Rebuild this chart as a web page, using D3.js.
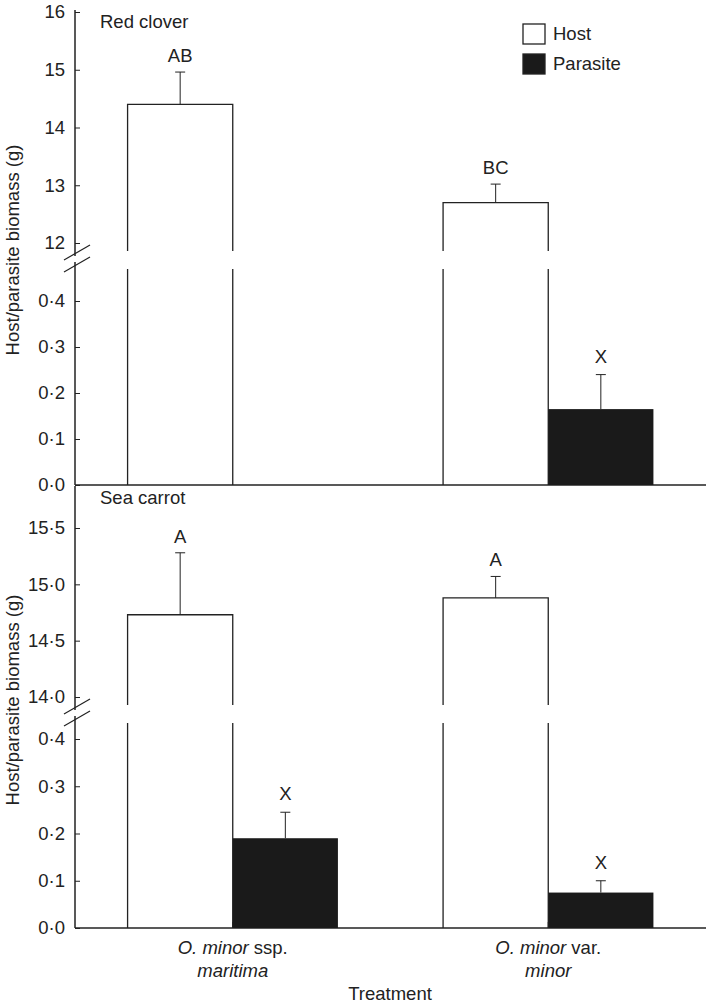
<!DOCTYPE html>
<html><head><meta charset="utf-8">
<script src="https://cdn.jsdelivr.net/npm/d3@7"></script>
<style>body{margin:0;background:#fff}text{font-family:"Liberation Sans",Arial,sans-serif;fill:#222}</style>
</head><body><svg id="c" width="708" height="1004"></svg>
<script>
// data
var treatments = ["maritima", "minor"];
var clover_host = [14.4, 12.7], clover_host_err = [0.56, 0.32];
var clover_par = [null, 0.165], clover_par_err = [null, 0.075];
var clover_host_lbl = ["AB", "BC"], clover_par_lbl = [null, "X"];
var carrot_host = [14.73, 14.88], carrot_host_err = [0.55, 0.19];
var carrot_par = [0.19, 0.075], carrot_par_err = [0.055, 0.025];
var carrot_host_lbl = ["A", "A"], carrot_par_lbl = ["X", "X"];
var upTicks1 = [12, 13, 14, 15, 16], upTicks2 = [14.0, 14.5, 15.0, 15.5];
var lowTicks = [0, 0.1, 0.2, 0.3, 0.4];

var svg = d3.select("#c"), ink = "#222", fs = 18.5;
var x0 = d3.scaleBand().domain(treatments).range([75, 706]).paddingInner(0).paddingOuter(0);
var x1 = d3.scaleBand().domain(["host", "par"]).range([0, x0.bandwidth()]).paddingInner(0).paddingOuter(0.5);
var fmt = function(d){ return d.toFixed(1).replace(".", "\u00b7"); };

function panel(o){
  var up = d3.scaleLinear().domain(o.upDom).range(o.upRange);
  var lo = d3.scaleLinear().domain([0, 0.4]).range(o.loRange);
  var gu = svg.append("g").attr("transform","translate(75,0)")
    .call(d3.axisLeft(up).tickValues(o.upTicks).tickSize(5).tickFormat(o.upFmt));
  var gl = svg.append("g").attr("transform","translate(75,0)")
    .call(d3.axisLeft(lo).tickValues(lowTicks).tickSize(5).tickFormat(fmt));
  [gu, gl].forEach(function(g){
    g.select(".domain").remove();
    g.selectAll("line").attr("stroke", ink).attr("x2", 5);
    g.selectAll("text").attr("font-size", fs).attr("x", -10).style("fill", ink);
  });
  svg.append("line").attr("x1",75).attr("x2",75).attr("y1",o.top).attr("y2",o.loRange[0]).attr("stroke",ink).attr("stroke-width",1.5);
  svg.append("line").attr("x1",75).attr("x2",706).attr("y1",o.loRange[0]).attr("y2",o.loRange[0]).attr("stroke",ink).attr("stroke-width",1.5);
  var by = o.brk;
  [by - 4, by + 8].forEach(function(y){
    svg.append("line").attr("x1",64).attr("x2",90).attr("y1",y+7).attr("y2",y-8).attr("stroke",ink).attr("stroke-width",1.2);
  });
  svg.append("rect").attr("x",73).attr("y",by-1).attr("width",5).attr("height",6).attr("fill","#fff");
  treatments.forEach(function(t, i){
    var bx = x0(t) + x1("host"), w = x1.bandwidth(), base = o.loRange[0];
    var yt = up(o.host[i]);
    svg.append("path").attr("fill","none").attr("stroke",ink).attr("stroke-width",1.3)
      .attr("d","M"+bx+","+(by-6)+"V"+yt+"H"+(bx+w)+"V"+(by-6)+"M"+bx+","+(by+12)+"V"+base+"M"+(bx+w)+","+(by+12)+"V"+base);
    var ye = up(o.host[i] + o.hostErr[i]);
    svg.append("line").attr("x1",bx+w/2).attr("x2",bx+w/2).attr("y1",yt).attr("y2",ye).attr("stroke",ink);
    svg.append("line").attr("x1",bx+w/2-5).attr("x2",bx+w/2+5).attr("y1",ye).attr("y2",ye).attr("stroke",ink);
    svg.append("text").attr("x",bx+w/2).attr("y",ye-10).attr("text-anchor","middle").attr("font-size",fs).text(o.hostLbl[i]);
    if (o.par[i] != null) {
      var px = x0(t) + x1("par"), py = lo(o.par[i]), pe = lo(o.par[i] + o.parErr[i]);
      svg.append("rect").attr("x",px).attr("y",py).attr("width",w).attr("height",base-py).attr("fill","#1a1a1a");
      svg.append("line").attr("x1",px+w/2).attr("x2",px+w/2).attr("y1",py).attr("y2",pe).attr("stroke",ink);
      svg.append("line").attr("x1",px+w/2-5).attr("x2",px+w/2+5).attr("y1",pe).attr("y2",pe).attr("stroke",ink);
      svg.append("text").attr("x",px+w/2).attr("y",pe-12).attr("text-anchor","middle").attr("font-size",fs).text(o.parLbl[i]);
    }
  });
  svg.append("text").attr("x",100).attr("y",o.top+18).attr("font-size",fs).text(o.title);
  svg.append("text").attr("transform","translate(19,"+o.mid+") rotate(-90)").attr("text-anchor","middle").attr("font-size",fs).text("Host/parasite biomass (g)");
}

panel({title:"Red clover", top:10, upDom:[12,16], upRange:[243,12], upTicks:upTicks1, upFmt:d3.format("d"),
  loRange:[485,301], brk:257, host:clover_host, hostErr:clover_host_err, hostLbl:clover_host_lbl,
  par:clover_par, parErr:clover_par_err, parLbl:clover_par_lbl, mid:250});
panel({title:"Sea carrot", top:486, upDom:[14,15.5], upRange:[697,528], upTicks:upTicks2, upFmt:fmt,
  loRange:[928,739], brk:711, host:carrot_host, hostErr:carrot_host_err, hostLbl:carrot_host_lbl,
  par:carrot_par, parErr:carrot_par_err, parLbl:carrot_par_lbl, mid:700});

treatments.forEach(function(t){
  var cx = x0(t) + x0.bandwidth()/2;
  svg.append("line").attr("x1",cx).attr("x2",cx).attr("y1",928).attr("y2",922).attr("stroke",ink);
});
var l1 = svg.append("text").attr("x",x0("maritima")+x0.bandwidth()/2).attr("y",954).attr("text-anchor","middle").attr("font-size",fs);
l1.append("tspan").attr("font-style","italic").text("O. minor");
l1.append("tspan").text(" ssp.");
svg.append("text").attr("x",x0("maritima")+x0.bandwidth()/2).attr("y",977).attr("text-anchor","middle").attr("font-size",fs).attr("font-style","italic").text("maritima");
var l2 = svg.append("text").attr("x",x0("minor")+x0.bandwidth()/2).attr("y",954).attr("text-anchor","middle").attr("font-size",fs);
l2.append("tspan").attr("font-style","italic").text("O. minor");
l2.append("tspan").text(" var.");
svg.append("text").attr("x",x0("minor")+x0.bandwidth()/2).attr("y",977).attr("text-anchor","middle").attr("font-size",fs).attr("font-style","italic").text("minor");
svg.append("text").attr("x",390).attr("y",1000).attr("text-anchor","middle").attr("font-size",fs).text("Treatment");

[["Host","#fff"],["Parasite","#1a1a1a"]].forEach(function(d, i){
  svg.append("rect").attr("x",523).attr("y",24+i*30).attr("width",22).attr("height",20).attr("fill",d[1]).attr("stroke",ink).attr("stroke-width",1.3);
  svg.append("text").attr("x",553).attr("y",40+i*30).attr("font-size",fs).text(d[0]);
});
</script></body></html>
